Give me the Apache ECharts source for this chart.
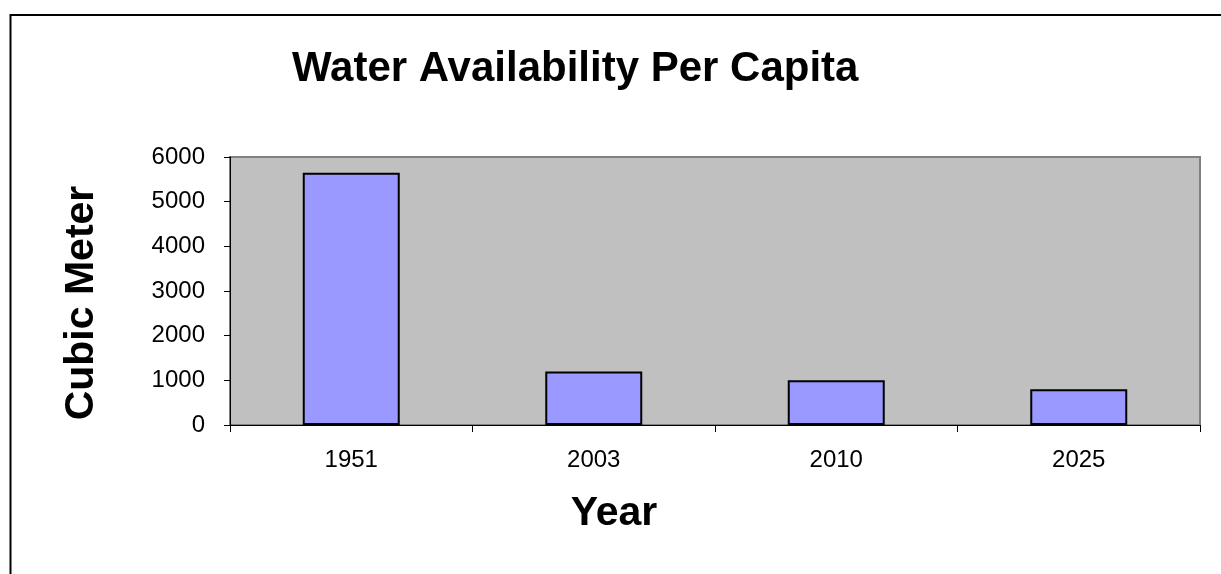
<!DOCTYPE html>
<html>
<head>
<meta charset="utf-8">
<script src="https://cdn.jsdelivr.net/npm/echarts@6/dist/echarts.min.js"></script>
<style>
  html, body { margin: 0; padding: 0; background: #fff; }
  #chart { width: 1221px; height: 574px; }
</style>
</head>
<body>
<div id="chart"></div>
<script>
// data
const years = ["1951", "2003", "2010", "2025"];
const cubicMeters = [5650, 1200, 1000, 800];
const yTicks = { min: 0, max: 6000, interval: 1000 };

const FONT = "Liberation Sans";

const chart = echarts.init(document.getElementById("chart"));

const option = {
  animation: false,
  backgroundColor: "#ffffff",
  title: {
    text: "Water Availability Per Capita",
    left: 287,
    top: 43,
    textStyle: {
      fontFamily: FONT,
      fontWeight: "bold",
      fontSize: 42,
      color: "#000",
    },
  },
  graphic: [
    {
      // outer frame of the figure, cut by the picture edge
      type: "rect",
      shape: { x: 10.5, y: 15, width: 1400, height: 700 },
      style: { fill: null, stroke: "#000", lineWidth: 2 },
      silent: true,
    },
  ],
  grid: {
    left: 230,
    top: 157,
    right: 21,
    bottom: 149,
    show: true,
    backgroundColor: "#c0c0c0",
    borderColor: "#808080",
    borderWidth: 2,
  },
  xAxis: {
    type: "category",
    data: years,
    name: "Year",
    nameLocation: "middle",
    nameGap: 68,
    nameTextStyle: {
      fontFamily: FONT,
      fontWeight: "bold",
      fontSize: 41,
      color: "#000",
      padding: [0, 202, 0, 0],
    },
    axisLine: { lineStyle: { color: "#000", width: 1 } },
    axisTick: { show: true, length: 7, lineStyle: { color: "#000" } },
    axisLabel: {
      margin: 23,
      fontFamily: FONT,
      fontSize: 24,
      color: "#000",
    },
  },
  yAxis: {
    type: "value",
    min: yTicks.min,
    max: yTicks.max,
    interval: yTicks.interval,
    name: "Cubic Meter",
    nameLocation: "middle",
    nameGap: 128,
    nameRotate: 90,
    nameTextStyle: {
      fontFamily: FONT,
      fontWeight: "bold",
      fontSize: 41,
      color: "#000",
      padding: [0, 24, 0, 0],
    },
    splitLine: { show: false },
    axisLine: { show: true, lineStyle: { color: "#000", width: 1 } },
    axisTick: { show: true, length: 6, lineStyle: { color: "#000" } },
    axisLabel: {
      margin: 25,
      fontFamily: FONT,
      fontSize: 24,
      color: "#000",
      formatter: (v) => String(v),
    },
  },
  series: [
    {
      type: "bar",
      data: cubicMeters,
      barWidth: "40%",
      itemStyle: {
        color: "#9999ff",
        borderColor: "#000",
        borderWidth: 2,
      },
    },
  ],
};

chart.setOption(option);
</script>
</body>
</html>
